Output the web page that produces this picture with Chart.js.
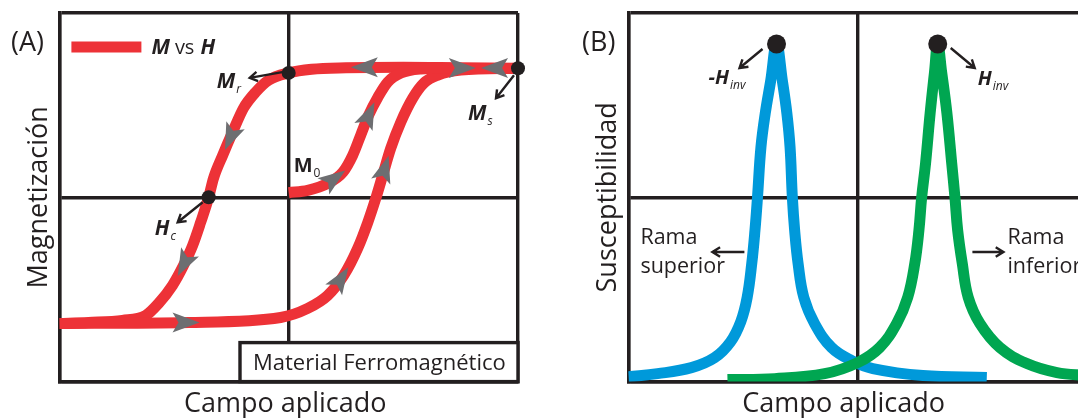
<!DOCTYPE html>
<html>
<head>
<meta charset="utf-8">
<script src="https://cdn.jsdelivr.net/npm/chart.js@4.4.1/dist/chart.umd.min.js"></script>
<style>
  html, body { margin: 0; padding: 0; background: #fff; overflow: hidden; }
  body { width: 1078px; height: 418px; position: relative; }
  .panel { position: absolute; top: 0; width: 545px; height: 418px; }
  #panelA { left: 0; }
  #panelB { left: 569px; }
</style>
</head>
<body>
<div class="panel" id="panelA"><canvas id="chartA"></canvas></div>
<div class="panel" id="panelB"><canvas id="chartB"></canvas></div>
<script>
// ===== Panel (A): M vs H hysteresis (arbitrary units, -100..100) =====
// descending branch, from Ms back to negative saturation
var downX = [100, 75, 50, 25, 10, 0, -8.7, -14.4, -19.7, -24.5, -28.8, -32.8, -34.9, -38.4, -41.9, -45.9, -50.7, -56.8, -62.4, -72.5, -87.3, -100];
var downY = [70, 70.3, 70.6, 70.3, 69.5, 67.5, 63.6, 57.1, 48.4, 35.3, 22.8, 10.3, 0, -13.6, -26.1, -37.0, -47.8, -57.6, -64.1, -66.8, -67.9, -68.5];
// ascending branch
var upX = [-100, -43.7, -3.5, 8.3, 17.0, 24.0, 30.1, 34.5, 38.0, 41.0, 44.5, 48.9, 54.1, 59.0, 65.1, 75.1, 100];
var upY = [-68.5, -67.9, -65.2, -60.3, -53.3, -42.4, -27.7, -13.6, -0.5, 12.0, 26.6, 40.8, 53.8, 62.0, 66.3, 69.0, 70];
// initial magnetization curve (M0)
var virginX = [0, 8.3, 17.0, 23.6, 27.9, 31.4, 34.9, 38.9, 43.2, 48.9, 57.6, 70.7];
var virginY = [2.5, 3.8, 7.6, 13.6, 22.8, 33.7, 44.6, 54.3, 62.5, 67.4, 69.6, 70.1];
// Mr, Hc, Ms
var markerX = [0, -34.9, 100];
var markerY = [67.5, 0, 70];
// direction chevrons on the loop (dir = screen angle, degrees)
var arrowX = [-25.4, -45.6, -45, 22.7, 41.8, 19.7, 34.9, 33.2, 75.5, 90];
var arrowY = [32.6, -35.9, -67.9, -44.3, 15.3, 10.1, 44.6, 70.5, 70.1, 70.1];
var arrowDir = [113, 117, 0, -57, -73, -36, -66, 180, 0, 180];

// ===== Panel (B): susceptibility vs field =====
var blueX = [-100, -87.3, -72.5, -62.4, -55.5, -51.0, -48.2, -46.2, -44.8, -43.7, -42.2, -40.3, -37.9, -35.4, -32.9, -30.9, -29.5, -28.5, -27.5, -26.0, -23.5, -18.8, -11.4, -2.6, 6.6, 28.4, 56.3];
var blueY = [-97.3, -95.7, -92.4, -87.0, -78.5, -67.5, -54.3, -35.9, -17.9, 0, 27.2, 45.7, 63.6, 83.2, 63.6, 45.7, 27.2, 0, -17.9, -35.9, -54.3, -68.5, -81.5, -88.6, -92.9, -96.7, -97.8];
var greenX = [-56.8, -36.2, -14.4, 0, 9.6, 17.0, 21.8, 24.9, 26.7, 27.9, 29.6, 31.6, 33.5, 34.9, 36.6, 38.9, 41.0, 42.4, 43.6, 45.6, 48.2, 53.3, 62.0, 73.8, 86.9, 100];
var greenY = [-98.9, -98.4, -95.7, -89.7, -81.5, -68.5, -54.3, -35.9, -17.9, 0, 18.5, 45.7, 68.0, 83.2, 68.0, 45.7, 18.5, 0, -17.9, -35.9, -54.3, -68.5, -81.5, -90.2, -95.1, -96.7];
// -Hinv, Hinv
var peakX = [-35.4, 34.9];
var peakY = [83.2, 83.2];

var INK = '#231f20';
var RED = '#ed3237';
var BLUE = '#0099da';
var GREEN = '#00a651';
var GREY = '#6d6e71';
var FONT = '"Open Sans", sans-serif';

Chart.defaults.font.family = FONT;

function pts(xs, ys) {
  return xs.map(function (x, i) { return { x: x, y: ys[i] }; });
}

function axis(title, pad) {
  return {
    type: 'linear',
    min: -100,
    max: 100,
    ticks: { display: false, stepSize: 100 },
    grid: { color: INK, lineWidth: 3.4, drawTicks: false },
    border: { display: true, color: INK, width: 3.4 },
    title: { display: true, text: title, color: INK, font: { family: FONT, size: 27 }, padding: pad }
  };
}

function curve(data, color, order, smooth) {
  var ds = {
    type: 'line',
    data: data,
    borderColor: color,
    borderWidth: 11,
    pointRadius: 0,
    borderCapStyle: 'butt',
    fill: false,
    order: order
  };
  if (smooth) ds.tension = smooth;
  else ds.cubicInterpolationMode = 'monotone';
  return ds;
}

function dots(data, r, order) {
  return {
    type: 'scatter',
    data: data,
    pointRadius: r,
    pointBackgroundColor: INK,
    pointBorderWidth: 0,
    clip: false,
    order: order
  };
}

function baseOptions(xTitle, yTitle) {
  return {
    responsive: true,
    maintainAspectRatio: false,
    animation: false,
    events: [],
    layout: { padding: { left: 23, right: 27, top: 13, bottom: 0 } },
    plugins: { legend: { display: false }, tooltip: { enabled: false } },
    scales: {
      x: axis(xTitle, { top: 7, bottom: -3 }),
      y: axis(yTitle, { top: 0, bottom: 4 })
    }
  };
}

function drawArrow(ctx, x1, y1, x2, y2) {
  var a = Math.atan2(y2 - y1, x2 - x1), h = 9;
  ctx.save();
  ctx.strokeStyle = INK;
  ctx.lineWidth = 2.4;
  ctx.beginPath();
  ctx.moveTo(x1, y1);
  ctx.lineTo(x2, y2);
  ctx.moveTo(x2 - h * Math.cos(a - 0.55), y2 - h * Math.sin(a - 0.55));
  ctx.lineTo(x2, y2);
  ctx.lineTo(x2 - h * Math.cos(a + 0.55), y2 - h * Math.sin(a + 0.55));
  ctx.stroke();
  ctx.restore();
}

// symbol with subscript, e.g. M_r
function drawSym(ctx, x, y, main, sub, mainFont, subFont) {
  ctx.font = mainFont;
  ctx.fillText(main, x, y);
  var w = ctx.measureText(main).width;
  ctx.font = subFont;
  ctx.fillText(sub, x + w + 1, y + 5);
}

function at(chart, x, y) {
  return { x: chart.scales.x.getPixelForValue(x), y: chart.scales.y.getPixelForValue(y) };
}

var chevronPlugin = {
  id: 'chevrons',
  afterDatasetsDraw: function (chart) {
    var ctx = chart.ctx;
    arrowX.forEach(function (x, i) {
      var p = at(chart, x, arrowY[i]);
      ctx.save();
      ctx.translate(p.x, p.y);
      ctx.rotate(arrowDir[i] * Math.PI / 180);
      ctx.fillStyle = GREY;
      ctx.beginPath();
      ctx.moveTo(14, 0);
      ctx.lineTo(-13, -10);
      ctx.lineTo(-7, 0);
      ctx.lineTo(-13, 10);
      ctx.closePath();
      ctx.fill();
      ctx.restore();
    });
  }
};

var BI = 'italic 700 21px ' + FONT;
var SUBI = 'italic 400 12px ' + FONT;

var annotateA = {
  id: 'annotateA',
  afterDraw: function (chart) {
    var ctx = chart.ctx, ca = chart.chartArea;
    ctx.save();
    ctx.fillStyle = INK;
    ctx.textBaseline = 'alphabetic';
    ctx.textAlign = 'left';

    ctx.font = '400 27px ' + FONT;
    ctx.fillText('(A)', 11, 51);

    // legend swatch + "M vs H"
    ctx.strokeStyle = RED;
    ctx.lineWidth = 11;
    ctx.beginPath();
    ctx.moveTo(ca.left + 12, ca.top + 34);
    ctx.lineTo(ca.left + 82, ca.top + 34);
    ctx.stroke();
    var lx = ca.left + 92, ly = ca.top + 41;
    ctx.font = BI;
    ctx.fillText('M', lx, ly);
    lx += ctx.measureText('M').width + 5;
    ctx.font = '400 20px ' + FONT;
    ctx.fillText('vs', lx, ly);
    lx += ctx.measureText('vs').width + 6;
    ctx.font = BI;
    ctx.fillText('H', lx, ly);

    var mr = at(chart, markerX[0], markerY[0]);
    drawArrow(ctx, mr.x - 5, mr.y - 1, mr.x - 39, mr.y + 5);
    drawSym(ctx, mr.x - 72, mr.y + 15, 'M', 'r', BI, SUBI);

    var hc = at(chart, markerX[1], markerY[1]);
    drawArrow(ctx, hc.x - 6, hc.y + 5, hc.x - 31, hc.y + 25);
    drawSym(ctx, hc.x - 54, hc.y + 38, 'H', 'c', BI, SUBI);

    var ms = at(chart, markerX[2], markerY[2]);
    drawArrow(ctx, ms.x - 4, ms.y + 7, ms.x - 22, ms.y + 30);
    drawSym(ctx, ms.x - 50, ms.y + 52, 'M', 's', BI, SUBI);

    var m0 = at(chart, virginX[0], virginY[0]);
    drawSym(ctx, m0.x + 5, m0.y - 21, 'M', '0', '700 20px ' + FONT, '400 12px ' + FONT);

    // material label box
    var bw = 278, bh = 39;
    ctx.fillStyle = '#fff';
    ctx.fillRect(ca.right - bw, ca.bottom - bh, bw, bh);
    ctx.strokeStyle = INK;
    ctx.lineWidth = 3.4;
    ctx.strokeRect(ca.right - bw, ca.bottom - bh, bw, bh);
    ctx.fillStyle = INK;
    ctx.font = '400 22px ' + FONT;
    ctx.fillText('Material Ferromagnético', ca.right - bw + 13, ca.bottom - 12);
    ctx.restore();
  }
};

var annotateB = {
  id: 'annotateB',
  afterDraw: function (chart) {
    var ctx = chart.ctx, ca = chart.chartArea;
    ctx.save();
    ctx.fillStyle = INK;
    ctx.textBaseline = 'alphabetic';
    ctx.textAlign = 'left';

    ctx.font = '400 27px ' + FONT;
    ctx.fillText('(B)', 13, 51);

    var SB = 'italic 700 20px ' + FONT;
    var p1 = at(chart, peakX[0], peakY[0]);
    drawArrow(ctx, p1.x - 14, p1.y + 5, p1.x - 37, p1.y + 24);
    drawSym(ctx, p1.x - 68, p1.y + 40, '-H', 'inv', SB, SUBI);

    var p2 = at(chart, peakX[1], peakY[1]);
    drawArrow(ctx, p2.x + 13, p2.y + 4, p2.x + 37, p2.y + 24);
    drawSym(ctx, p2.x + 40, p2.y + 41, 'H', 'inv', SB, SUBI);

    ctx.font = '400 21.5px ' + FONT;
    ctx.fillText('Rama', ca.left + 12, ca.top + 231);
    ctx.fillText('superior', ca.left + 12, ca.top + 260);
    drawArrow(ctx, ca.left + 116, ca.top + 239, ca.left + 84, ca.top + 239);

    ctx.fillText('Rama', ca.left + 379, ca.top + 231);
    ctx.fillText('inferior', ca.left + 379, ca.top + 260);
    drawArrow(ctx, ca.left + 344, ca.top + 239, ca.left + 375, ca.top + 239);
    ctx.restore();
  }
};

var optsA = baseOptions('Campo aplicado\u00a0', 'Magnetización');
var optsB = baseOptions('Campo aplicado\u00a0\u00a0\u00a0\u00a0', 'Susceptibilidad');

new Chart(document.getElementById('chartA'), {
  type: 'line',
  data: {
    datasets: [
      dots(pts(markerX, markerY), 7, 0),
      curve(pts(virginX, virginY), RED, 1),
      curve(pts(upX, upY), RED, 2),
      curve(pts(downX, downY), RED, 3)
    ]
  },
  options: optsA,
  plugins: [chevronPlugin, annotateA]
});

new Chart(document.getElementById('chartB'), {
  type: 'line',
  data: {
    datasets: [
      dots(pts(peakX, peakY), 9.5, 0),
      curve(pts(greenX, greenY), GREEN, 1, 0.4),
      curve(pts(blueX, blueY), BLUE, 2, 0.4)
    ]
  },
  options: optsB,
  plugins: [annotateB]
});
</script>
</body>
</html>
